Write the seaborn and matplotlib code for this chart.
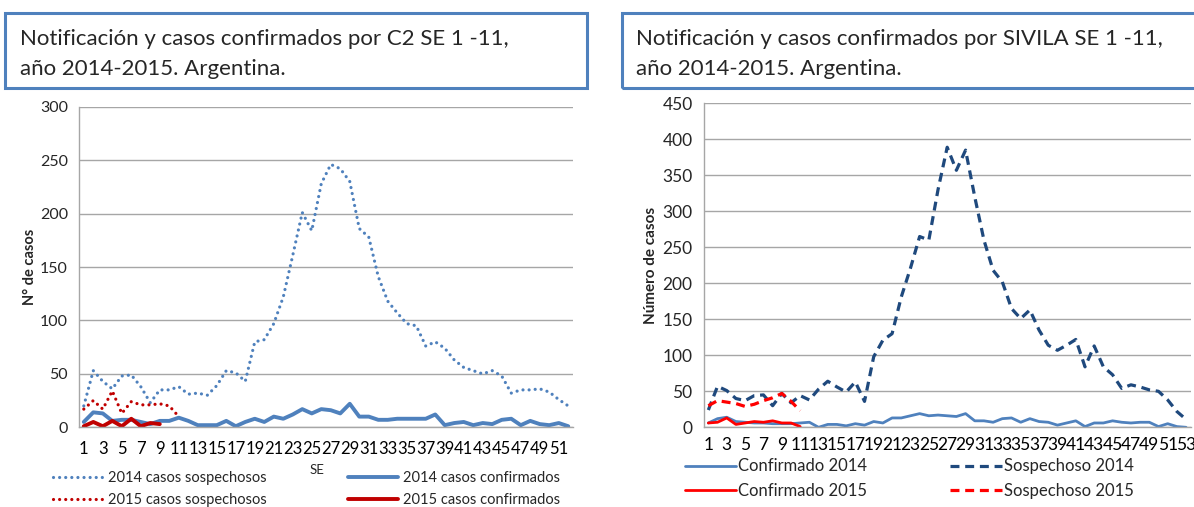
import matplotlib
matplotlib.use("Agg")
import matplotlib.pyplot as plt
import seaborn as sns
from matplotlib.patches import Rectangle

# ---- data: C2 (left) ----
weeks_c2 = list(range(1, 53))
c2_sosp_2014 = [20, 53, 43, 36, 48, 49, 38, 23, 35, 35, 38, 31, 32, 30, 39, 53,
                51, 43, 80, 82, 97, 122, 161, 201, 184, 228, 246, 242, 230, 186,
                178, 141, 118, 107, 97, 95, 76, 80, 74, 63, 56, 53, 50, 53, 48,
                32, 35, 35, 36, 33, 26, 20]
c2_conf_2014 = [5, 14, 13, 6, 7, 7, 5, 3, 6, 6, 9, 6, 2, 2, 2, 6, 1, 5, 8, 5,
                10, 8, 12, 17, 13, 17, 16, 13, 22, 10, 10, 7, 7, 8, 8, 8, 8, 12,
                2, 4, 5, 2, 4, 3, 7, 8, 2, 6, 3, 2, 4, 1]
c2_sosp_2015 = [17, 25, 17, 34, 13, 24, 21, 21, 22, 20, 10]
c2_conf_2015 = [1, 5, 1, 6, 1, 8, 1, 4, 3]

# ---- data: SIVILA (right) ----
weeks_sv = list(range(1, 54))
sv_sosp_2014 = [24, 57, 51, 40, 37, 44, 45, 30, 47, 34, 44, 38, 53, 64, 56, 49,
                63, 36, 98, 121, 130, 181, 221, 265, 260, 330, 389, 357, 385,
                320, 260, 218, 202, 165, 151, 163, 135, 114, 107, 114, 122, 84,
                113, 84, 73, 54, 59, 56, 52, 50, 38, 22, 11]
sv_conf_2014 = [6, 12, 14, 8, 7, 6, 6, 5, 5, 5, 6, 7, 0, 4, 4, 2, 5, 3, 8, 6,
                13, 13, 16, 19, 16, 17, 16, 15, 19, 9, 9, 7, 12, 13, 7, 12, 8,
                7, 3, 6, 9, 1, 6, 6, 9, 7, 6, 7, 7, 1, 5, 1, 0]
sv_conf_2015 = [6, 7, 13, 4, 6, 8, 7, 9, 6, 6, 1]
sv_sosp_2015 = [30, 37, 35, 33, 29, 32, 37, 41, 47, 36, 23]

title_c2 = ["Notificación y casos confirmados por C2 SE 1 -11,",
            "año 2014-2015. Argentina."]
title_sv = ["Notificación y casos confirmados por SIVILA SE 1 -11,",
            "año 2014-2015. Argentina."]

sns.set_theme(style="white")
plt.rcParams["font.family"] = ["Lato", "DejaVu Sans"]

GRID = "#a6a6a6"
BLUE = "#4f81bd"
NAVY = "#1f497d"

fig = plt.figure(figsize=(11.94, 5.07), dpi=100)
ax1 = fig.add_axes([0.0662, 0.1572, 0.4137, 0.6323])
ax2 = fig.add_axes([0.5894, 0.1572, 0.4078, 0.6390])

dot = dict(linestyle=(0, (0.01, 1.9)), dash_capstyle="round")

sns.lineplot(x=weeks_c2, y=c2_sosp_2014, ax=ax1, color=BLUE, lw=2.3,
             label="2014 casos sospechosos", **dot)
sns.lineplot(x=weeks_c2[:len(c2_sosp_2015)], y=c2_sosp_2015, ax=ax1,
             color="#c00000", lw=2.3, label="2015 casos sospechosos", **dot)
sns.lineplot(x=weeks_c2, y=c2_conf_2014, ax=ax1, color=BLUE, lw=2.8,
             label="2014 casos confirmados")
sns.lineplot(x=weeks_c2[:len(c2_conf_2015)], y=c2_conf_2015, ax=ax1,
             color="#c00000", lw=2.8, label="2015 casos confirmados")

sns.lineplot(x=weeks_sv, y=sv_conf_2014, ax=ax2, color=BLUE, lw=2.0,
             label="Confirmado 2014")
sns.lineplot(x=weeks_sv[:len(sv_conf_2015)], y=sv_conf_2015, ax=ax2,
             color="#ff0000", lw=2.0, label="Confirmado 2015")
sns.lineplot(x=weeks_sv, y=sv_sosp_2014, ax=ax2, color=NAVY, lw=2.3,
             linestyle=(0, (2.8, 1.8)), label="Sospechoso 2014")
sns.lineplot(x=weeks_sv[:len(sv_sosp_2015)], y=sv_sosp_2015, ax=ax2,
             color="#ff0000", lw=2.3, linestyle=(0, (2.8, 1.8)),
             label="Sospechoso 2015")


def style_axis(ax, n, ymax, ystep, fs, xfs, pad):
    ax.set_xlim(0.5, n + 0.5)
    ax.set_ylim(0, ymax)
    ax.set_yticks(range(0, ymax + 1, ystep))
    ax.set_xticks(range(1, n + 1, 2))
    ax.set_xticklabels([str(w) for w in range(1, n + 1, 2)])
    ax.set_xticks([k + 0.5 for k in range(0, n + 1)], minor=True)
    ax.tick_params(axis="x", which="major", length=0, pad=pad, labelsize=xfs,
                   colors="black")
    ax.tick_params(axis="x", which="minor", length=5, width=0.8,
                   color=GRID, direction="out")
    ax.tick_params(axis="y", length=6, width=0.8, color=GRID, labelsize=fs,
                   pad=2)
    ax.grid(axis="y", color=GRID, lw=1.0)
    ax.set_axisbelow(True)
    for s in ["top", "right"]:
        ax.spines[s].set_visible(False)
    for s in ["left", "bottom"]:
        ax.spines[s].set_color(GRID)
        ax.spines[s].set_linewidth(1.0)
    ax.set_facecolor("white")


style_axis(ax1, 52, 300, 50, 11.5, 12, 10)
style_axis(ax2, 53, 450, 50, 12.5, 12.5, 7)

ax1.set_ylabel("N° de casos", fontsize=10.5, fontweight="bold", labelpad=2)
ax2.set_ylabel("Número de casos", fontsize=11, fontweight="bold",
               labelpad=3)
ax1.set_xlabel("")
ax2.set_xlabel("")
fig.text(317 / 1194, 1 - 470 / 507, "SE", fontsize=9.5, ha="center",
         va="center")

# legends
h1, l1 = ax1.get_legend_handles_labels()
ax1.legend(h1, l1, ncol=2, loc="upper left", frameon=False, fontsize=10.5,
           bbox_to_anchor=(-0.07, -0.108), handlelength=3.4,
           handletextpad=0.35, columnspacing=5.6, labelspacing=0.6,
           borderaxespad=0.2)
h2, l2 = ax2.get_legend_handles_labels()
ax2.legend(h2, l2, ncol=2, loc="upper left", frameon=False, fontsize=12,
           bbox_to_anchor=(-0.06, -0.065), handlelength=3.1,
           handletextpad=0.1, columnspacing=5.0, labelspacing=0.5,
           borderaxespad=0.2)

# title boxes
for x0, w, lines, tx in [(5, 582, title_c2, 20), (622, 600, title_sv, 636)]:
    fig.patches.append(Rectangle((x0 / 1194, 1 - 88 / 507), w / 1194,
                                 75 / 507, transform=fig.transFigure,
                                 fill=False, edgecolor=BLUE, lw=2.2))
    fig.text(tx / 1194, 1 - 45 / 507, lines[0], fontsize=16,
             va="baseline", ha="left")
    fig.text(tx / 1194, 1 - 75 / 507, lines[1], fontsize=16,
             va="baseline", ha="left")

fig.savefig("out.png", dpi=100, facecolor="white")
